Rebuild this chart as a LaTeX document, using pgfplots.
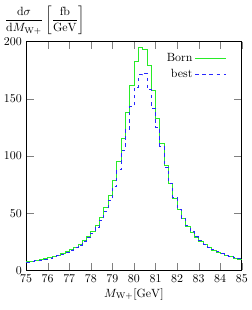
\documentclass[border=0pt]{standalone}
\usepackage{pgfplots}
\usepackage{pgfplotstable}
\pgfplotsset{compat=1.18}
\definecolor{borngreen}{RGB}{40,235,40}
\definecolor{bestblue}{RGB}{40,40,255}
\pgfplotstableread{
x born best
75.0 7.46 7.2
75.2 8.03 7.8
75.4 8.67 8.4
75.6 9.39 9.1
75.8 10.21 9.9
76.0 11.12 10.8
76.2 12.17 11.8
76.4 13.38 13.0
76.6 14.76 14.3
76.8 16.36 15.8
77.0 18.22 17.6
77.2 20.41 19.7
77.4 23.0 22.2
77.6 26.1 25.1
77.8 29.8 28.6
78.0 34.3 32.8
78.2 39.8 37.8
78.4 46.6 44.0
78.6 55.1 51.8
78.8 65.6 61.5
79.0 78.8 73.5
79.2 95.2 88.0
79.4 115.2 105.0
79.6 138.1 123.5
79.8 162.1 143.0
80.0 183.0 160.0
80.2 194.9 171.0
80.4 193.5 172.5
80.6 179.3 158.0
80.8 157.4 142.0
81.0 133.3 125.0
81.2 110.9 108.0
81.4 91.7 90.5
81.6 76.0 76.0
81.8 63.3 63.5
82.0 53.2 53.5
82.2 45.1 45.5
82.4 38.6 39.0
82.6 33.3 33.8
82.8 29.0 29.5
83.0 25.4 25.9
83.2 22.5 22.9
83.4 19.9 20.3
83.6 17.8 18.1
83.8 15.9 16.2
84.0 14.5 14.6
84.2 13.1 13.3
84.4 12.0 12.1
84.6 10.9 11.0
84.8 10.0 10.1
85.0 10.0 10.1
}\histdata
\begin{document}
\begin{tikzpicture}
\begin{axis}[
  scale only axis,
  width=181pt, height=192pt,
  xmin=75, xmax=85, ymin=0, ymax=200,
  xtick={75,76,...,85},
  ytick={0,50,100,150,200},
  tick align=inside,
  major tick length=6.5pt,
  minor tick num=0,
  line width=0.5pt,
  xlabel={$M_{\mathrm{W}+}[\mathrm{GeV}]$},
  x label style={yshift=2pt},
  ylabel={$\displaystyle\frac{\mathrm{d}\sigma}{\mathrm{d}M_{\mathrm{W}+}}\left[\frac{\mathrm{fb}}{\mathrm{GeV}}\right]$},
  y label style={at={(axis description cs:0,1)}, rotate=-90, anchor=south west, xshift=-21.5pt, yshift=2pt},
  legend style={draw=none, fill=none, at={(rel axis cs:0.945,0.97)}, anchor=north east, row sep=1pt},
  legend cell align=right,
  legend plot pos=right,
  legend image code/.code={\draw[#1] (0cm,0cm) -- (0.9cm,0cm);},
]
\addplot[const plot mark left, borngreen, line width=0.55pt] table[x=x, y=born] {\histdata};
\addlegendentry{Born}
\addplot[const plot mark left, bestblue, dashed, line width=0.55pt] table[x=x, y=best] {\histdata};
\addlegendentry{best}
\end{axis}
\path (current bounding box.north west) ++(0,2pt);
\path (current bounding box.south east) ++(0,-5pt);
\end{tikzpicture}
\end{document}
